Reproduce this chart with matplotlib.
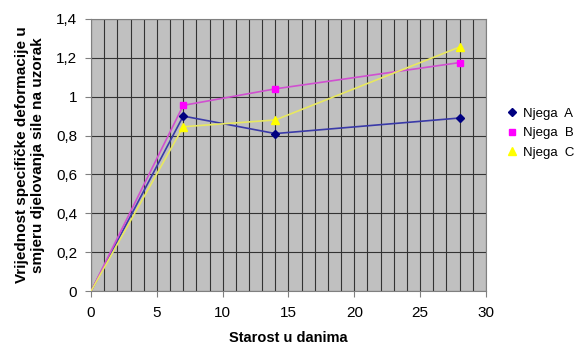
import matplotlib
matplotlib.use('Agg')
import matplotlib.pyplot as plt

plt.rcParams.update({'font.family': ['Liberation Sans', 'DejaVu Sans']})

days = [0, 7, 14, 28]
njega_a = [0, 0.90, 0.81, 0.89]
njega_b = [0, 0.955, 1.04, 1.175]
njega_c = [0, 0.845, 0.88, 1.255]

series = [
    ("Njega  A", njega_a, '#000080', '#3a3aa8', 'D', 4.5),
    ("Njega  B", njega_b, '#ff00ff', '#d050d0', 's', 5),
    ("Njega  C", njega_c, '#ffff00', '#e8e860', '^', 6),
]

fig = plt.figure(figsize=(5.84, 3.49), dpi=100)
ax = fig.add_axes([0.156, 0.166, 0.676, 0.780])
ax.set_facecolor('#c0c0c0')

for label, vals, mcol, lcol, mk, ms in series:
    ax.plot(days, vals, color=lcol, lw=1.2, zorder=3)
    # no marker at the origin point
    ax.plot(days[1:], vals[1:], ls='none', marker=mk, ms=ms, color=mcol,
            zorder=4, label=label)

ax.set_xlim(0, 30)
ax.set_ylim(0, 1.4)
ax.set_xticks(range(0, 31, 5))
ax.set_xticks(range(0, 31, 1), minor=True)
ax.set_yticks([0, 0.2, 0.4, 0.6, 0.8, 1.0, 1.2, 1.4])
ax.set_yticklabels(['0', '0,2', '0,4', '0,6', '0,8', '1', '1,2', '1,4'])
ax.grid(True, which='both', axis='x', color='#333333', lw=0.8)
ax.grid(True, which='major', axis='y', color='#333333', lw=0.8)
ax.tick_params(which='minor', length=0)
ax.tick_params(which='major', labelsize=11, color='#808080', length=4)
ax.tick_params(axis='x', pad=7)
ax.tick_params(axis='y', pad=6)
for s in ax.spines.values():
    s.set_color('#808080')

ax.set_xlabel('Starost u danima', fontsize=10.5, fontweight='bold', labelpad=8)
ax.set_ylabel('Vrijednost specifičke deformacije u\nsmjeru djelovanja sile na uzorak',
              fontsize=11, fontweight='bold', labelpad=8)

ax.legend(loc='center left', bbox_to_anchor=(1.02, 0.58), frameon=False,
          fontsize=9.5, handletextpad=0.3, labelspacing=0.55, handlelength=1)

fig.savefig('out.png', dpi=100)
